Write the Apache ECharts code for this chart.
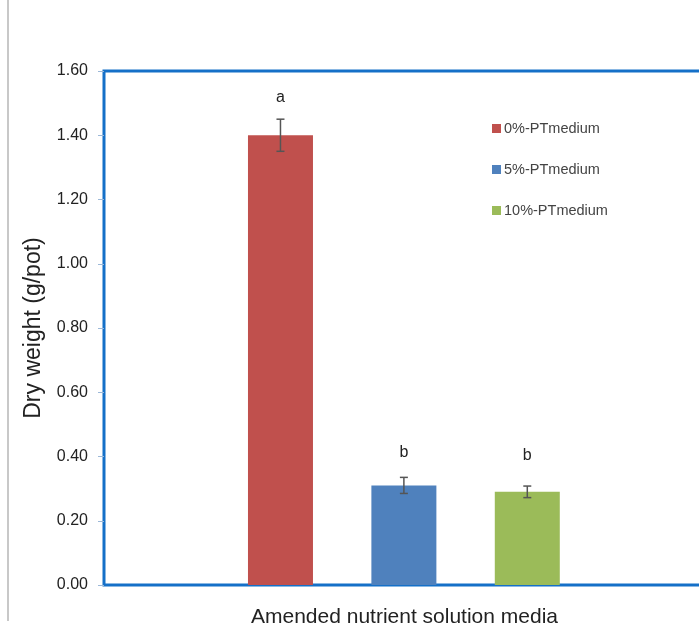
<!DOCTYPE html>
<html>
<head>
<meta charset="utf-8">
<script src="https://cdn.jsdelivr.net/npm/echarts@6/dist/echarts.min.js"></script>
<style>
  html, body { margin: 0; padding: 0; background: #fff; }
  #main { width: 699px; height: 635px; }
</style>
</head>
<body>
<div id="main"></div>
<script>
// data
const seriesNames = ["0%-PTmedium", "5%-PTmedium", "10%-PTmedium"];
const xPositions = [1, 2, 3];
const dryWeight = [1.40, 0.31, 0.29];
const stdError = [0.05, 0.025, 0.018];
const letters = ["a", "b", "b"];
const labelGap = [30, 25, 28];
const colors = ["#c0504d", "#4f81bd", "#9bbb59"];
const yTicks = { min: 0, max: 1.6, interval: 0.2 };

const chart = echarts.init(document.getElementById("main"));

// one bar series per medium, so the legend gets three entries
let series = seriesNames.map((name, i) => ({
  name: name,
  type: "bar",
  barWidth: 65,
  barGap: "-100%",
  itemStyle: { color: colors[i] },
  label: {
    show: true,
    position: "top",
    distance: labelGap[i],
    formatter: letters[i],
    color: "#222",
    fontSize: 16,
    fontFamily: "Liberation Sans"
  },
  data: [[xPositions[i], dryWeight[i]]],
  z: 2
}));

// error bars
series.push({
  type: "custom",
  name: "err",
  data: dryWeight.map((v, i) => [xPositions[i], v - stdError[i], v + stdError[i]]),
  renderItem: (params, api) => {
    const lo = api.coord([api.value(0), api.value(1)]);
    const hi = api.coord([api.value(0), api.value(2)]);
    const cap = 4;
    const style = { stroke: "#555", lineWidth: 1.5 };
    return {
      type: "group",
      children: [
        { type: "line", shape: { x1: lo[0], y1: lo[1], x2: hi[0], y2: hi[1] }, style: style },
        { type: "line", shape: { x1: lo[0] - cap, y1: lo[1], x2: lo[0] + cap, y2: lo[1] }, style: style },
        { type: "line", shape: { x1: hi[0] - cap, y1: hi[1], x2: hi[0] + cap, y2: hi[1] }, style: style }
      ]
    };
  },
  z: 5
});

let option = {
  animation: false,
  backgroundColor: "#fff",
  grid: {
    left: 104,
    right: -6,
    top: 71,
    bottom: 50,
    outerBoundsMode: "none",
    containLabel: false,
    show: true,
    borderColor: "#1570c8",
    borderWidth: 3
  },
  legend: {
    data: seriesNames,
    orient: "vertical",
    left: 487,
    top: 116,
    itemGap: 26,
    itemWidth: 9,
    itemHeight: 9,
    icon: "rect",
    textStyle: { color: "#444", fontSize: 14.5, fontFamily: "Liberation Sans", padding: [0, 0, 0, -2] }
  },
  xAxis: {
    type: "value",
    min: -0.43,
    max: 4.44,
    axisLine: { show: false },
    axisTick: { show: false },
    axisLabel: { show: false },
    splitLine: { show: false },
    name: "Amended nutrient solution media",
    nameLocation: "middle",
    nameGap: 22,
    nameTextStyle: { color: "#222", fontSize: 21, fontFamily: "Liberation Sans" }
  },
  yAxis: {
    type: "value",
    min: yTicks.min,
    max: yTicks.max,
    interval: yTicks.interval,
    axisLine: { show: false, onZero: false },
    axisTick: { show: true, length: 6, lineStyle: { color: "#9cb8d8" } },
    splitLine: { show: false },
    axisLabel: {
      formatter: (v) => v.toFixed(2),
      color: "#222",
      fontSize: 16,
      margin: 16,
      fontFamily: "Liberation Sans"
    },
    name: "Dry weight (g/pot)",
    nameLocation: "middle",
    nameGap: 59,
    nameTextStyle: { color: "#222", fontSize: 23, fontFamily: "Liberation Sans" }
  },
  graphic: [
    {
      type: "line",
      shape: { x1: 8, y1: 0, x2: 8, y2: 621 },
      style: { stroke: "#c8c8c8", lineWidth: 2 }
    }
  ],
  series: series
};

chart.setOption(option);
</script>
</body>
</html>
